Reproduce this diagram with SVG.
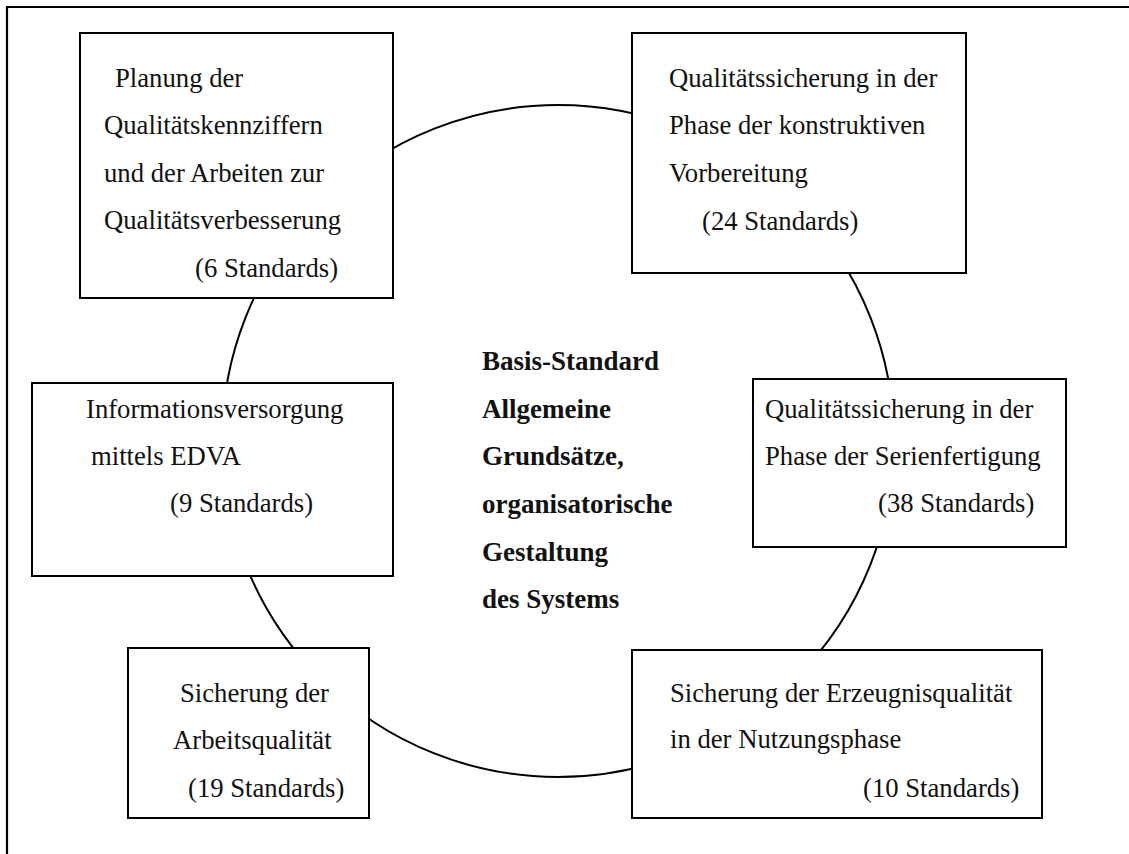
<svg xmlns="http://www.w3.org/2000/svg" width="1129" height="854" viewBox="0 0 1129 854">
  <style>
    .frame { stroke: #000; stroke-width: 2.2; fill: none; }
    .ring { stroke: #000; stroke-width: 2; fill: none; }
    .box { fill: #fff; stroke: #000; stroke-width: 2; }
    .lbl { font-family: "Liberation Serif", "Times New Roman", serif; font-size: 26.7px; fill: #111; }
    .core { font-family: "Liberation Serif", "Times New Roman", serif; font-size: 27px; font-weight: bold; fill: #111; }
  </style>
  <rect width="1129" height="854" fill="#fff"/>

  <!-- page frame: top and left rules -->
  <path class="frame" d="M7 854 V7 H1129"/>

  <!-- connecting ring behind the boxes -->
  <g id="connectors">
    <circle class="ring" cx="558" cy="441" r="336"/>
  </g>

  <g id="planung">
    <rect class="box" x="80" y="33" width="313" height="265"/>
    <text class="lbl" x="115" y="87">Planung der</text>
    <text class="lbl" x="104" y="134">Qualitätskennziffern</text>
    <text class="lbl" x="104" y="182">und der Arbeiten zur</text>
    <text class="lbl" x="104" y="229">Qualitätsverbesserung</text>
    <text class="lbl" x="195" y="277">(6 Standards)</text>
  </g>

  <g id="konstruktion">
    <rect class="box" x="632" y="33" width="334" height="240"/>
    <text class="lbl" x="669" y="87">Qualitätssicherung in der</text>
    <text class="lbl" x="669" y="134">Phase der konstruktiven</text>
    <text class="lbl" x="669" y="182">Vorbereitung</text>
    <text class="lbl" x="702" y="230">(24 Standards)</text>
  </g>

  <g id="edva">
    <rect class="box" x="32" y="383" width="361" height="193"/>
    <text class="lbl" x="86" y="418">Informationsversorgung</text>
    <text class="lbl" x="91" y="465">mittels EDVA</text>
    <text class="lbl" x="170" y="512">(9 Standards)</text>
  </g>

  <g id="serie">
    <rect class="box" x="753" y="379" width="313" height="168"/>
    <text class="lbl" x="765" y="418">Qualitätssicherung in der</text>
    <text class="lbl" x="765" y="465">Phase der Serienfertigung</text>
    <text class="lbl" x="878" y="512">(38 Standards)</text>
  </g>

  <g id="arbeit">
    <rect class="box" x="128" y="648" width="241" height="170"/>
    <text class="lbl" x="180" y="702">Sicherung der</text>
    <text class="lbl" x="173" y="749">Arbeitsqualität</text>
    <text class="lbl" x="188" y="797">(19 Standards)</text>
  </g>

  <g id="nutzung">
    <rect class="box" x="632" y="650" width="410" height="168"/>
    <text class="lbl" x="670" y="702">Sicherung der Erzeugnisqualität</text>
    <text class="lbl" x="670" y="748">in der Nutzungsphase</text>
    <text class="lbl" x="863" y="797">(10 Standards)</text>
  </g>

  <g id="basis">
    <text class="core" x="482" y="370">Basis-Standard</text>
    <text class="core" x="482" y="418">Allgemeine</text>
    <text class="core" x="482" y="465">Grundsätze,</text>
    <text class="core" x="482" y="513">organisatorische</text>
    <text class="core" x="482" y="561">Gestaltung</text>
    <text class="core" x="482" y="608">des Systems</text>
  </g>
</svg>
